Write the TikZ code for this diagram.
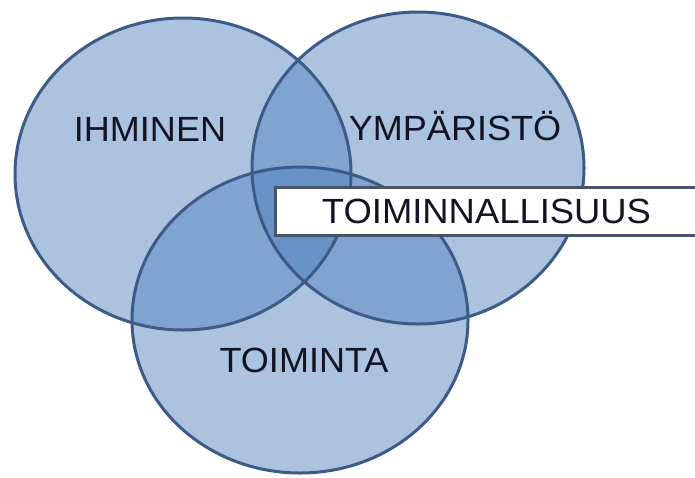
\documentclass[tikz,border=0pt]{standalone}
\usepackage{fontspec}
\setmainfont{Liberation Sans}
\usetikzlibrary{shapes.geometric}
\definecolor{vennfill}{HTML}{4F81BD}
\definecolor{vennline}{RGB}{60,92,135}
\definecolor{boxline}{RGB}{72,84,106}
\definecolor{txt}{RGB}{18,20,36}
\begin{document}
\begin{tikzpicture}[x=1pt,y=-1pt,
  venn/.style={ellipse, inner sep=0pt, fill=vennfill, fill opacity=0.47, draw=none},
  ring/.style={draw=vennline, line width=3pt},
  lbl/.style={text=txt, font=\fontsize{35}{40}\selectfont, inner sep=0pt, xscale=1.03},
  banner/.style={draw=boxline, line width=3pt, fill=white, inner sep=0pt,
    minimum width=425pt, minimum height=48pt, text=txt,
    font=\fontsize{35}{40}\selectfont}]
\useasboundingbox (0,0) rectangle (695,477);
\clip (0,0) rectangle (695,477);
\fill[white] (0,0) rectangle (695,477);
% filled regions
\node[venn, minimum width=336pt, minimum height=312pt] (ihm) at (183,174) {};
\node[venn, minimum width=332pt, minimum height=312pt] (ymp) at (418,168) {};
\node[venn, minimum width=336pt, minimum height=306pt] (toi) at (300,320) {};
% outlines
\draw[ring] (ihm.center) ellipse [x radius=168pt, y radius=156pt];
\draw[ring] (ymp.center) ellipse [x radius=166pt, y radius=156pt];
\draw[ring] (toi.center) ellipse [x radius=168pt, y radius=153pt];
% labels
\node[lbl] (l1) at (150,129) {IHMINEN};
\node[lbl] (l2) at (455,126) {YMPÄRISTÖ};
\node[lbl] (l3) at (304,360) {TOIMINTA};
\node[banner] (box) at (487.5,211) {\hspace*{-2pt}\scalebox{1.04}[1]{TOIMINNALLISUUS}};
\end{tikzpicture}
\end{document}
